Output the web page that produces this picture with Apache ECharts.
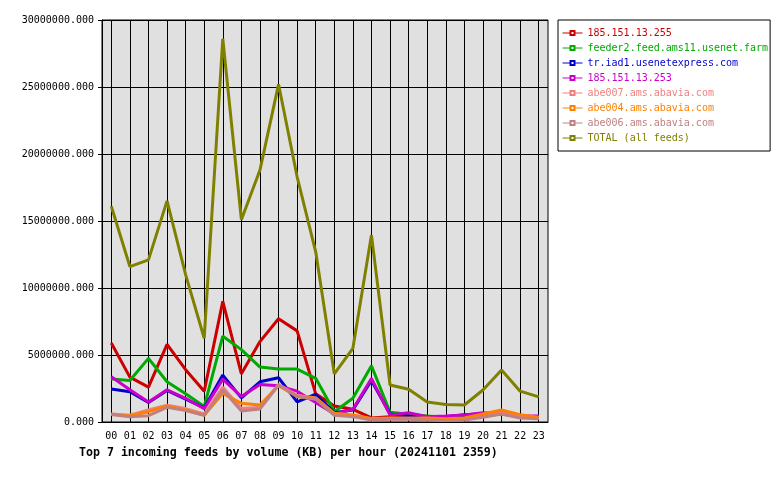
<!DOCTYPE html>
<html>
<head>
<meta charset="utf-8">
<script src="https://cdn.jsdelivr.net/npm/echarts@6/dist/echarts.min.js"></script>
<style>
  html, body { margin: 0; padding: 0; background: #fff; }
  #chart { width: 780px; height: 480px; }
</style>
</head>
<body>
<div id="chart"></div>
<script>
const hours = ['00','01','02','03','04','05','06','07','08','09','10','11',
               '12','13','14','15','16','17','18','19','20','21','22','23']

const feedNames = [
  '185.151.13.255', 'feeder2.feed.ams11.usenet.farm', 'tr.iad1.usenetexpress.com',
  '185.151.13.253', 'abe007.ams.abavia.com', 'abe004.ams.abavia.com',
  'abe006.ams.abavia.com', 'TOTAL (all feeds)'
]
const feedColors = ['#cc0000', '#00aa00', '#0000cc', '#cc00cc', '#f08080', '#ff8000', '#c08080', '#808000']

// KB per hour
const feed255 = [5900000, 3350000, 2600000, 5800000, 3900000, 2300000, 9000000, 3600000, 6000000, 7700000, 6800000, 2100000,
                 1200000, 950000, 300000, 400000, 350000, 300000, 300000, 350000, 500000, 700000, 400000, 350000]
const feederFarm = [3200000, 3100000, 4750000, 3000000, 2100000, 1150000, 6400000, 5400000, 4100000, 3950000, 3950000, 3260000,
                    770000, 1770000, 4200000, 720000, 570000, 450000, 350000, 350000, 450000, 600000, 400000, 350000]
const trIad1 = [2460000, 2260000, 1450000, 2350000, 1700000, 1050000, 3500000, 1800000, 3000000, 3300000, 1500000, 2070000,
                700000, 900000, 3100000, 600000, 450000, 400000, 400000, 550000, 600000, 700000, 400000, 400000]
const feed253 = [3380000, 2400000, 1500000, 2400000, 1770000, 1000000, 3200000, 1900000, 2800000, 2700000, 2300000, 1450000,
                 600000, 950000, 3250000, 520000, 690000, 400000, 450000, 520000, 690000, 600000, 450000, 450000]
const abe007 = [600000, 500000, 900000, 1250000, 1000000, 600000, 2600000, 1000000, 1100000, 2800000, 2000000, 1800000,
                600000, 450000, 200000, 250000, 250000, 200000, 150000, 200000, 400000, 700000, 400000, 300000]
const abe004 = [570000, 450000, 770000, 1200000, 900000, 500000, 2140000, 1400000, 1270000, 2700000, 1900000, 1770000,
                650000, 520000, 270000, 300000, 300000, 300000, 250000, 300000, 600000, 900000, 550000, 350000]
const abe006 = [550000, 400000, 470000, 1100000, 850000, 500000, 2400000, 820000, 970000, 2760000, 1900000, 1700000,
                500000, 400000, 150000, 200000, 200000, 150000, 120000, 150000, 350000, 600000, 300000, 250000]
const totalAll = [16100000, 11600000, 12100000, 16500000, 11000000, 6250000, 28600000, 15100000, 18800000, 25200000, 18300000, 12700000,
                  3600000, 5500000, 13950000, 2760000, 2440000, 1500000, 1300000, 1270000, 2390000, 3880000, 2300000, 1870000]

const yTicks = { min: 0, max: 30000000, step: 5000000 }

const feedValues = [feed255, feederFarm, trIad1, feed253, abe007, abe004, abe006, totalAll]

const font = 'DejaVu Sans Mono'
const chart = echarts.init(document.getElementById('chart'))

// plot box: 102..548 px, 24 bands -> half band inset for the hour grid lines
const plotLeft = 102, plotRight = 548
const halfBand = (plotRight - plotLeft) / hours.length / 2

chart.setOption({
  animation: false,
  title: {
    text: 'Top 7 incoming feeds by volume (KB) per hour (20241101 2359)',
    left: 74,
    top: 442,
    textStyle: { fontFamily: font, fontSize: 11.6, fontWeight: 'bold', color: '#000' }
  },
  legend: {
    orient: 'vertical',
    left: 558,
    top: 20,
    padding: [8, 2, 8, 4],
    itemWidth: 20,
    itemHeight: 5,
    itemGap: 5,
    borderColor: '#000',
    borderWidth: 1,
    lineStyle: { width: 1 },
    data: feedNames.map((name, i) => ({
      name: name,
      textStyle: { color: feedColors[i], fontFamily: font, fontSize: 10 }
    }))
  },
  grid: [
    {
      left: plotLeft,
      right: 780 - plotRight,
      top: 20,
      bottom: 58,
      show: true,
      backgroundColor: '#e0e0e0',
      borderColor: '#000',
      borderWidth: 1
    },
    {
      left: plotLeft + halfBand,
      right: 780 - plotRight + halfBand,
      top: 20,
      bottom: 58
    }
  ],
  xAxis: [
    {
      type: 'category',
      data: hours,
      boundaryGap: true,
      axisLine: { lineStyle: { color: '#000' } },
      axisTick: { alignWithLabel: true, length: 4, lineStyle: { color: '#000' } },
      axisLabel: { color: '#000', fontFamily: font, fontSize: 10, margin: 9 },
      splitLine: { show: false }
    },
    {
      gridIndex: 1,
      type: 'category',
      data: hours,
      boundaryGap: false,
      axisLine: { show: false },
      axisTick: { show: false },
      axisLabel: { show: false },
      splitLine: { show: true, lineStyle: { color: '#000', width: 1 } }
    }
  ],
  yAxis: [
    {
      type: 'value',
      min: yTicks.min,
      max: yTicks.max,
      interval: yTicks.step,
      axisLine: { show: true, lineStyle: { color: '#000' } },
      axisTick: { show: true, length: 4, lineStyle: { color: '#000' } },
      axisLabel: {
        color: '#000', fontFamily: font, fontSize: 10, margin: 8,
        formatter: v => v.toFixed(3)
      },
      splitLine: { show: true, lineStyle: { color: '#000', width: 1 } }
    },
    {
      gridIndex: 1,
      type: 'value',
      min: yTicks.min,
      max: yTicks.max,
      show: false
    }
  ],
  series: feedNames.map((name, i) => ({
    name: name,
    type: 'line',
    data: feedValues[i],
    color: feedColors[i],
    symbol: 'emptyRect',
    symbolSize: 4,
    showSymbol: false,
    lineStyle: { width: 3, color: feedColors[i] }
  }))
})
</script>
</body>
</html>
